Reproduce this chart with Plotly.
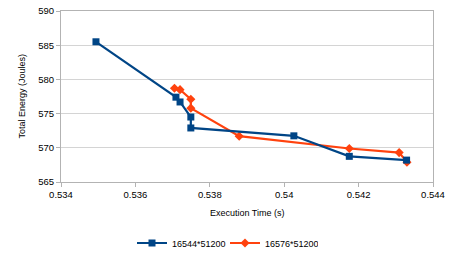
import plotly.graph_objects as go

# Data
x_16544 = [0.53494, 0.53709, 0.53720, 0.53749, 0.53749, 0.54026, 0.54175, 0.54329]
y_16544 = [585.5, 577.4, 576.7, 574.5, 572.9, 571.75, 568.75, 568.2]

x_16576 = [0.53705, 0.53720, 0.53749, 0.53749, 0.53879, 0.54175, 0.54309, 0.54330]
y_16576 = [578.7, 578.5, 577.1, 575.8, 571.7, 569.9, 569.3, 567.9]

name_a = "16544*51200"
name_b = "16576*51200"

x_ticks = [0.534, 0.536, 0.538, 0.54, 0.542, 0.544]
x_tick_labels = ["0.534", "0.536", "0.538", "0.54", "0.542", "0.544"]
y_ticks = [565, 570, 575, 580, 585, 590]

x_title = "Execution Time (s)"
y_title = "Total Energy (Joules)"

W, H = 454, 255
L, R, T, B = 61, 21, 11, 73

fig = go.Figure()
fig.add_trace(go.Scatter(
    x=x_16576, y=y_16576, name=name_b, mode="lines+markers",
    line=dict(color="#ff420e", width=2.2),
    marker=dict(symbol="diamond", size=7, color="#ff420e"),
))
fig.add_trace(go.Scatter(
    x=x_16544, y=y_16544, name=name_a, mode="lines+markers",
    line=dict(color="#004586", width=2.2),
    marker=dict(symbol="square", size=7, color="#004586"),
))

pw, ph = W - L - R, H - T - B
fig.update_layout(
    width=W, height=H,
    margin=dict(l=L, r=R, t=T, b=B, autoexpand=False),
    paper_bgcolor="white", plot_bgcolor="white",
    font=dict(family="Liberation Sans, Arial, sans-serif", size=9.5, color="#000000"),
    showlegend=True,
    legend=dict(
        orientation="h", x=225 / W, xanchor="center", xref="container",
        y=1 - 243 / H, yref="container", yanchor="middle",
        font=dict(size=9), traceorder="reversed",
        entrywidth=48, entrywidthmode="pixels",
    ),
    xaxis=dict(
        range=[0.534, 0.544], tickvals=x_ticks, ticktext=x_tick_labels,
        showgrid=False, zeroline=False, automargin=False,
        showline=True, linecolor="#b3b3b3", linewidth=1, mirror=True,
        ticks="outside", ticklen=4, tickcolor="#b3b3b3",
    ),
    yaxis=dict(
        range=[565, 590], tickvals=y_ticks, automargin=False,
        showgrid=True, gridcolor="#d4d4d4", gridwidth=1, zeroline=False,
        showline=True, linecolor="#b3b3b3", linewidth=1, mirror=True,
        ticks="outside", ticklen=4, tickcolor="#b3b3b3",
    ),
    annotations=[
        dict(text=x_title, xref="paper", yref="paper", x=0.5, y=-(213 - 182) / ph,
             xanchor="center", yanchor="middle", showarrow=False, font=dict(size=9)),
        dict(text=y_title, xref="paper", yref="paper", x=-(61 - 21) / pw, y=0.5,
             xanchor="center", yanchor="middle", textangle=-90, showarrow=False, font=dict(size=9)),
    ],
)
fig.write_html("out.html", config={"displayModeBar": False},
               post_script="document.body.style.margin='0';")
